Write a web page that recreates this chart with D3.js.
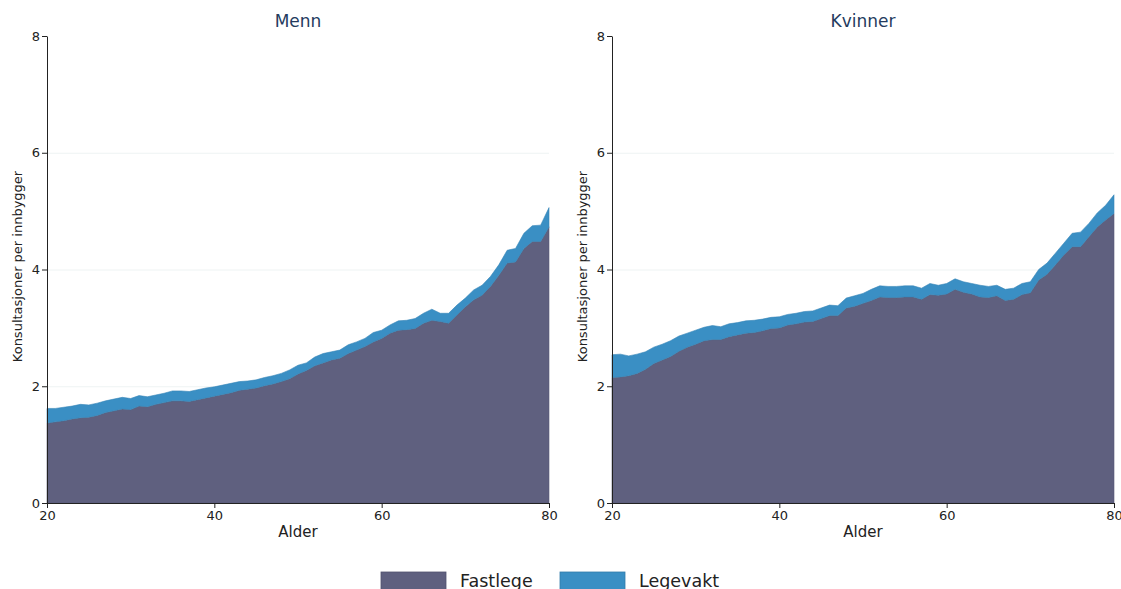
<!DOCTYPE html>
<html>
<head>
<meta charset="utf-8">
<script src="https://cdn.jsdelivr.net/npm/d3@7"></script>
<style>
  body { margin: 0; background: #fff; font-family: "DejaVu Sans", Verdana, sans-serif; }
  .axis path, .axis line { stroke: #222; }
  .axis text { fill: #222; font-size: 13px; font-family: "DejaVu Sans", sans-serif; }
  .grid line { stroke: #eef3f3; }
  .grid path { display: none; }
</style>
</head>
<body>
<svg id="chart" width="1121" height="589"></svg>
<script>
// ages on the x axis
var ages = d3.range(20, 81);

var mennFastlege = [1.37, 1.39, 1.41, 1.44, 1.46, 1.47, 1.50, 1.55, 1.58, 1.61,
  1.60, 1.66, 1.65, 1.69, 1.72, 1.75, 1.75, 1.74, 1.77, 1.80,
  1.83, 1.86, 1.89, 1.93, 1.95, 1.97, 2.01, 2.04, 2.08, 2.13,
  2.21, 2.27, 2.35, 2.40, 2.45, 2.48, 2.56, 2.62, 2.68, 2.76,
  2.82, 2.91, 2.96, 2.97, 2.99, 3.08, 3.13, 3.11, 3.08, 3.22,
  3.36, 3.48, 3.56, 3.71, 3.90, 4.11, 4.13, 4.36, 4.48, 4.48,
  4.73];
var mennLegevakt = [0.25, 0.23, 0.23, 0.22, 0.23, 0.21, 0.21, 0.20, 0.20, 0.20,
  0.19, 0.18, 0.17, 0.16, 0.16, 0.17, 0.17, 0.17, 0.17, 0.17,
  0.16, 0.16, 0.16, 0.15, 0.14, 0.14, 0.14, 0.14, 0.14, 0.15,
  0.15, 0.13, 0.15, 0.16, 0.14, 0.14, 0.15, 0.14, 0.14, 0.16,
  0.14, 0.14, 0.16, 0.16, 0.17, 0.17, 0.19, 0.14, 0.17, 0.17,
  0.15, 0.17, 0.17, 0.17, 0.18, 0.22, 0.23, 0.26, 0.27, 0.28,
  0.33];

var kvinnerFastlege = [2.15, 2.16, 2.18, 2.22, 2.29, 2.39, 2.45, 2.51, 2.60, 2.67,
  2.72, 2.78, 2.80, 2.80, 2.85, 2.88, 2.91, 2.92, 2.95, 2.99,
  3.00, 3.05, 3.07, 3.10, 3.11, 3.16, 3.21, 3.21, 3.34, 3.37,
  3.42, 3.47, 3.53, 3.52, 3.52, 3.53, 3.53, 3.49, 3.57, 3.56,
  3.58, 3.66, 3.61, 3.58, 3.53, 3.52, 3.55, 3.47, 3.49, 3.57,
  3.60, 3.82, 3.92, 4.08, 4.25, 4.39, 4.39, 4.56, 4.73, 4.85,
  4.96];
var kvinnerLegevakt = [0.39, 0.39, 0.34, 0.33, 0.30, 0.28, 0.27, 0.27, 0.26, 0.24,
  0.24, 0.23, 0.24, 0.22, 0.22, 0.21, 0.21, 0.21, 0.20, 0.19,
  0.19, 0.18, 0.18, 0.18, 0.18, 0.18, 0.18, 0.17, 0.17, 0.18,
  0.17, 0.19, 0.19, 0.19, 0.19, 0.19, 0.19, 0.19, 0.19, 0.17,
  0.18, 0.18, 0.18, 0.18, 0.20, 0.19, 0.18, 0.19, 0.19, 0.19,
  0.19, 0.18, 0.19, 0.20, 0.20, 0.23, 0.25, 0.23, 0.24, 0.25,
  0.32];

var xTicks = [20, 40, 60, 80];
var yTicks = [0, 2, 4, 6, 8];
var seriesNames = ["Fastlege", "Legevakt"];
var colors = { Fastlege: "#5f607f", Legevakt: "#3a8fc4" };

var panels = [
  { title: "Menn", left: 47, fastlege: mennFastlege, legevakt: mennLegevakt },
  { title: "Kvinner", left: 612, fastlege: kvinnerFastlege, legevakt: kvinnerLegevakt }
];

(function () {
  var svg = d3.select("#chart");
  var marginTop = 36, height = 467, width = 502;

  var yScale = d3.scaleLinear().domain([0, 8]).range([height, 0]);
  var xScale = d3.scaleLinear().domain([20, 80]).range([0, width]);

  panels.forEach(function (p) {
    var g = svg.append("g").attr("transform", "translate(" + p.left + "," + marginTop + ")");

    // faint horizontal grid
    g.append("g")
      .attr("class", "grid")
      .call(d3.axisLeft(yScale).tickValues([2, 4, 6]).tickSize(-width).tickFormat(""));

    var rows = ages.map(function (a, i) {
      return { age: a, Fastlege: p.fastlege[i], Legevakt: p.legevakt[i] };
    });
    var stacked = d3.stack().keys(seriesNames)(rows);

    var area = d3.area()
      .x(function (d) { return xScale(d.data.age); })
      .y0(function (d) { return yScale(d[0]); })
      .y1(function (d) { return yScale(d[1]); });

    g.selectAll(".layer")
      .data(stacked)
      .enter().append("path")
      .attr("class", "layer")
      .attr("fill", function (d) { return colors[d.key]; })
      .attr("stroke", function (d) { return d3.color(colors[d.key]).darker(0.2); })
      .attr("stroke-width", 0.6)
      .attr("d", area);

    // axes
    g.append("g")
      .attr("class", "axis")
      .attr("transform", "translate(0," + height + ")")
      .call(d3.axisBottom(xScale).tickValues(xTicks).tickSize(5).tickSizeOuter(0).tickFormat(d3.format("d")));

    g.append("g")
      .attr("class", "axis")
      .call(d3.axisLeft(yScale).tickValues(yTicks).tickSize(5).tickSizeOuter(0).tickPadding(2));

    g.append("text")
      .attr("x", width / 2)
      .attr("y", -9)
      .attr("text-anchor", "middle")
      .attr("fill", "#243b5e")
      .style("font-size", "17px")
      .text(p.title);

    g.append("text")
      .attr("x", width / 2)
      .attr("y", height + 34)
      .attr("text-anchor", "middle")
      .attr("fill", "#222")
      .style("font-size", "15px")
      .text("Alder");

    g.append("text")
      .attr("transform", "translate(-25," + (height / 2 - 3) + ") rotate(-90)")
      .attr("text-anchor", "middle")
      .attr("fill", "#222")
      .style("font-size", "13px")
      .text("Konsultasjoner per innbygger");
  });

  // legend
  var legend = svg.append("g").attr("transform", "translate(381,572)");
  var item = legend.selectAll("g")
    .data(seriesNames)
    .enter().append("g")
    .attr("transform", function (d, i) { return "translate(" + (i * 179) + ",0)"; });

  item.append("rect")
    .attr("width", 65)
    .attr("height", 20)
    .attr("fill", function (d) { return colors[d]; })
    .attr("stroke", function (d) { return d3.color(colors[d]).darker(0.4); })
    .attr("stroke-width", 0.8);

  item.append("text")
    .attr("x", 79)
    .attr("y", 15)
    .attr("fill", "#222")
    .style("font-size", "17.5px")
    .text(function (d) { return d; });
})();
</script>
</body>
</html>
